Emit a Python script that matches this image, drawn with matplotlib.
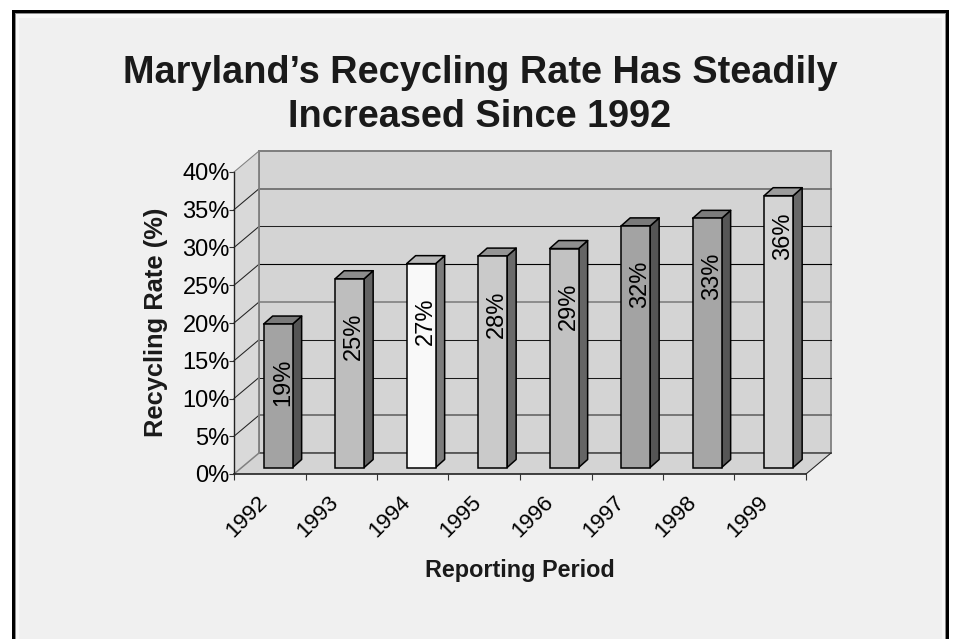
import matplotlib
matplotlib.use("Agg")
import matplotlib.pyplot as plt
from matplotlib.patches import Polygon, Rectangle

years = ["1992", "1993", "1994", "1995", "1996", "1997", "1998", "1999"]
rates = [19, 25, 27, 28, 29, 32, 33, 36]
labels = ["19%", "25%", "27%", "28%", "29%", "32%", "33%", "36%"]
front_colors = ["#a3a3a3", "#bebebe", "#f9f9f9", "#cacaca", "#c2c2c2", "#a3a3a3", "#a6a6a6", "#d4d4d4"]
top_colors = ["#7a7a7a", "#8c8c8c", "#b8b8b8", "#959595", "#8f8f8f", "#7a7a7a", "#7c7c7c", "#9c9c9c"]
side_colors = ["#555555", "#636363", "#7c7c7c", "#6a6a6a", "#656565", "#555555", "#565656", "#686868"]
yticks = [0, 5, 10, 15, 20, 25, 30, 35, 40]
grid_colors = {5: "#666666", 10: "#1a1a1a", 15: "#1a1a1a", 20: "#808080", 25: "#000000", 30: "#222222", 35: "#707070", 40: "#7f7f7f"}
grid_widths = {5: 1.2, 10: 0.75, 15: 0.75, 20: 1.2, 25: 0.8, 30: 0.75, 35: 1.3, 40: 1.3}
title = "Maryland\u2019s Recycling Rate Has Steadily\nIncreased Since 1992"

W, H = 956, 639
plt.rcParams["font.family"] = ["Liberation Sans", "DejaVu Sans"]
fig = plt.figure(figsize=(W / 100, H / 100), dpi=100, facecolor="white")

# frame panel: black outer, gray hairline, light band, grey fill
bg = fig.add_axes([0, 0, 1, 1], zorder=-5)
bg.set_xlim(0, W)
bg.set_ylim(H, 0)
bg.axis("off")
bg.add_patch(Rectangle((12, 10), 937, H + 20, facecolor="black", edgecolor="none"))
bg.add_patch(Rectangle((15, 13), 931, H + 20, facecolor="#8c8c8c", edgecolor="none"))
bg.add_patch(Rectangle((16, 14), 929, H + 20, facecolor="#f8f8f8", edgecolor="none"))
bg.add_patch(Rectangle((19, 18), 923, H + 20, facecolor="#f0f0f0", edgecolor="none"))

L, R, T, B = 234, 806, 172, 474
ax = fig.add_axes([L / W, 1 - B / H, (R - L) / W, (B - T) / H])
ax.set_xlim(0, len(years))
ax.set_ylim(0, 40)
ax.patch.set_alpha(0)
for s in ax.spines.values():
    s.set_visible(False)

px = len(years) / (R - L)
py = 40 / (B - T)
DX, DY = 25 * px, 21 * py
n = len(years)

def poly(points, **kw):
    p = Polygon(points, closed=True, clip_on=False, **kw)
    ax.add_patch(p)

wall = "#d4d4d4"
# back wall, floor, side wall
poly([(DX, DY), (n + DX, DY), (n + DX, 40 + DY), (DX, 40 + DY)], facecolor=wall, edgecolor="#808080", lw=1.3, zorder=1)
poly([(0, 0), (n, 0), (n + DX, DY), (DX, DY)], facecolor=wall, edgecolor="none", zorder=1)
poly([(0, 0), (DX, DY), (DX, 40 + DY), (0, 40)], facecolor="#d9d9d9", edgecolor="none", zorder=1)

# gridlines
for v in yticks[1:]:
    ax.plot([DX, n + DX], [v + DY, v + DY], color=grid_colors[v], lw=grid_widths[v], zorder=2, clip_on=False)
    ax.plot([0, DX], [v, v + DY], color="#222222" if v < 40 else "#808080", lw=0.75, zorder=2, clip_on=False)
ax.plot([DX, n + DX], [DY, DY], color="#555555", lw=1.3, zorder=2, clip_on=False)
ax.plot([DX, DX], [DY, 40 + DY], color="#808080", lw=1.3, zorder=2, clip_on=False)
ax.plot([n, n + DX], [0, DY], color="#222222", lw=0.75, zorder=2, clip_on=False)
ax.plot([0, DX], [0, DY], color="#808080", lw=1.1, zorder=2, clip_on=False)

# bars
bw = 29 * px
ox = 8.5 * px
oy = 6.5 * py
dbx, dby = 9 * px, 8 * py
for i, (v, lab) in enumerate(zip(rates, labels)):
    x0 = i + 0.5 - bw / 2 + ox - 0.1 * px
    x1 = x0 + bw
    y0 = oy
    y1 = v + oy
    poly([(x1, y0), (x1 + dbx, y0 + dby), (x1 + dbx, y1 + dby), (x1, y1)],
         facecolor=side_colors[i], edgecolor="black", lw=1.1, zorder=3, joinstyle="round")
    poly([(x0, y1), (x1, y1), (x1 + dbx, y1 + dby), (x0 + dbx, y1 + dby)],
         facecolor=top_colors[i], edgecolor="black", lw=1.1, zorder=3, joinstyle="round")
    ax.add_patch(Rectangle((x0, y0), bw, v, facecolor=front_colors[i], edgecolor="black", lw=1.1, zorder=4, clip_on=False))
    drop = (41 if v >= 36 else 58) * py
    ax.text(x0 + 0.66 * bw, y1 - drop, lab, rotation=90, ha="center", va="center",
            fontsize=17, color="black", zorder=5, clip_on=False)

# axes lines and ticks
ax.plot([0, n], [0, 0], color="#222222", lw=1.2, zorder=6, clip_on=False)
ax.plot([0, 0], [0, 40], color="#222222", lw=1.0, zorder=6, clip_on=False)
ax.set_xticks(range(n + 1))
ax.set_xticklabels([])
ax.set_yticks(yticks)
ax.set_yticklabels([f"{v}%" for v in yticks], fontsize=17, color="black")
ax.tick_params(axis="x", length=4.5, width=0.8, color="#333333")
ax.tick_params(axis="y", length=3.5, width=0.8, color="#333333", pad=-0.5)

for i, y in enumerate(years):
    ax.annotate(y, xy=(i + 0.5, 0), xycoords=("data", "data"), xytext=(-4, -18.5), textcoords="offset points",
                rotation=45, ha="right", va="center", rotation_mode="anchor", fontsize=16, color="black",
                annotation_clip=False)

fig.text(480 / W, 1 - 95 / H, title, ha="center", va="center", fontsize=27.3, fontweight="bold",
         color="#1a1a1a", linespacing=1.3)
fig.text(156 / W, 1 - 322 / H, "Recycling Rate (%)", rotation=90, ha="center", va="center",
         fontsize=18.4, fontweight="bold", color="#1a1a1a")
fig.text(520 / W, 1 - 571 / H, "Reporting Period", ha="center", va="center",
         fontsize=16.8, fontweight="bold", color="#1a1a1a")

fig.savefig("out.png", dpi=100, facecolor="white")
